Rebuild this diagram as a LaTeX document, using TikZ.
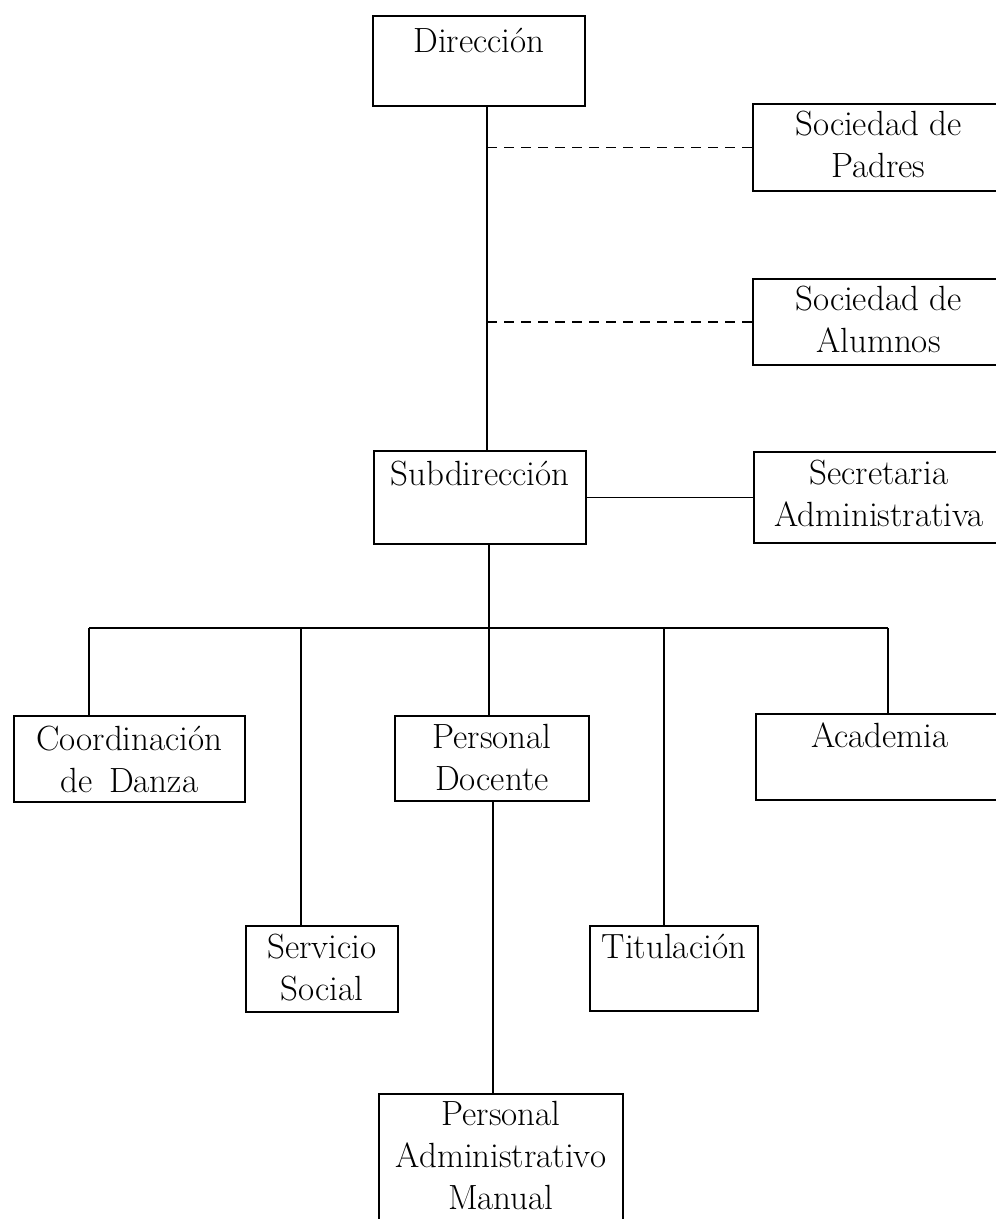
\documentclass[tikz,border=0pt]{standalone}
\usepackage{tikz}
\usetikzlibrary{positioning}

\tikzset{
  caja/.style={draw, line width=1.8pt, inner sep=0pt, anchor=north west, align=center,
    font=\fontsize{35}{42}\selectfont},
  linea/.style={line width=1.8pt},
  punteada/.style={line width=1.8pt, dash pattern=on 10pt off 7pt}
}

\begin{document}
\begin{tikzpicture}[x=1pt,y=-1pt]
\useasboundingbox (0,0) rectangle (996,1219);
\clip (0,0) rectangle (996,1219);

% text height = hasta la ultima linea de base
\node[caja, minimum width=212pt, text height=37pt, text depth=53pt] (dir) at (372,15) {Dirección};
\node[caja, minimum width=251pt, text height=74pt, text depth=13pt] (padres) at (752,103) {Sociedad de\\Padres};
\node[caja, minimum width=251pt, text height=74pt, text depth=12pt] (alumnos) at (752,278) {Sociedad de\\Alumnos};
\node[caja, minimum width=212pt, text height=35pt, text depth=58pt] (subdir) at (373,450) {Subdirección};
\node[caja, minimum width=250pt, text height=75pt, text depth=16pt] (secre) at (753,451) {Secretaria\\Administrativa};
\node[caja, minimum width=231pt, text height=77pt, text depth=9pt] (coord) at (13,715) {Coordinación\\de\, Danza};
\node[caja, minimum width=194pt, text height=75pt, text depth=10pt] (docente) at (394,715) {Personal\\Docente};
\node[caja, minimum width=248pt, text height=34pt, text depth=52pt] (academia) at (755,713) {Academia};
\node[caja, minimum width=152pt, text height=75pt, text depth=11pt] (servicio) at (245,925) {Servicio\\Social};
\node[caja, minimum width=168pt, text height=33pt, text depth=52pt] (titulacion) at (589,925) {Titulación};
\node[caja, minimum width=244pt, text height=116pt, text depth=26pt] (padm) at (378,1093) {Personal\\Administrativo\\Manual};

% tronco principal
\coordinate (eje) at (487,0);
\draw[linea] (dir.south -| eje) -- (subdir.north -| eje);
\draw[punteada] (eje |- padres.west) -- (padres.west);
\draw[punteada] (eje |- alumnos.west) -- (alumnos.west);
\draw[linea] (subdir.east) -- (secre.west);

% barra de departamentos
\coordinate (b1) at (89,628);
\coordinate (b2) at (301,628);
\coordinate (b3) at (489,628);
\coordinate (b4) at (664,628);
\coordinate (b5) at (888,628);
\draw[linea] (subdir.south -| b3) -- (b3);
\draw[linea] (b1) -- (b5);
\foreach \b/\n in {b1/coord, b2/servicio, b3/docente, b4/titulacion, b5/academia}
  \draw[linea] (\b) -- (\b |- \n.north);

\coordinate (m) at (493,0);
\draw[linea] (docente.south -| m) -- (padm.north -| m);
\end{tikzpicture}
\end{document}
